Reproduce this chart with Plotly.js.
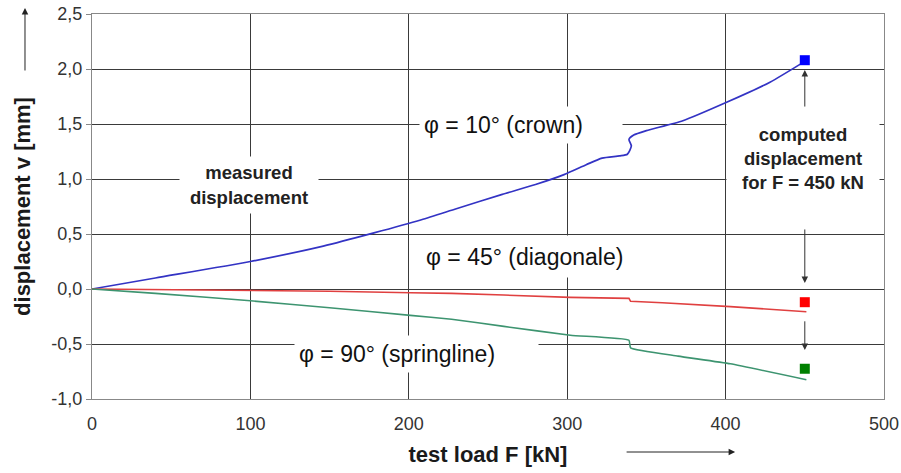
<!DOCTYPE html>
<html>
<head>
<meta charset="utf-8">
<script src="https://cdn.plot.ly/plotly-3.0.1.min.js"></script>
<style>html,body{margin:0;padding:0;background:#fff;}#chart{width:901px;height:473px;}</style>
</head>
<body>
<div id="chart"></div>
<script>
// measured displacement curves (test load F [kN] vs displacement v [mm])
const crownF = [0, 40, 100, 146, 178, 208, 230, 259, 280, 298, 312, 322, 333, 338, 340.5, 339, 342, 350, 373, 401, 428, 449];
const crownV = [0, 0.10, 0.25, 0.39, 0.51, 0.63, 0.73, 0.86, 0.95, 1.04, 1.13, 1.19, 1.21, 1.225, 1.30, 1.36, 1.40, 1.44, 1.53, 1.70, 1.88, 2.06];

const diagF = [0, 50, 100, 150, 201, 227, 260, 302, 339, 340, 360, 403, 451];
const diagV = [0, -0.005, -0.01, -0.02, -0.034, -0.04, -0.055, -0.076, -0.085, -0.112, -0.125, -0.16, -0.207];

const springF = [0, 40, 100, 150, 201, 227, 260, 302, 339, 340, 370, 403, 451];
const springV = [0, -0.04, -0.107, -0.17, -0.24, -0.275, -0.34, -0.42, -0.466, -0.535, -0.61, -0.68, -0.825];

// computed displacement for F = 450 kN
const computedF = [450, 450, 450];
const computedV = [2.08, -0.12, -0.725];
const computedColors = ['#0000ff', '#ff0000', '#008000'];

// axis ticks
const xTicks = [0, 100, 200, 300, 400, 500];
const yTicks = [-1.0, -0.5, 0.0, 0.5, 1.0, 1.5, 2.0, 2.5];
const yTickText = ['-1,0', '-0,5', '0,0', '0,5', '1,0', '1,5', '2,0', '2,5'];

const FONT = '"Liberation Sans", Arial, sans-serif';

const traces = [
  {x: crownF, y: crownV, type: 'scatter', mode: 'lines', line: {color: '#3333c4', width: 1.7, shape: 'spline', smoothing: 0.6}, hoverinfo: 'skip'},
  {x: diagF, y: diagV, type: 'scatter', mode: 'lines', line: {color: '#e04040', width: 1.6}, hoverinfo: 'skip'},
  {x: springF, y: springV, type: 'scatter', mode: 'lines', line: {color: '#3d9470', width: 1.6, shape: 'spline', smoothing: 0.4}, hoverinfo: 'skip'},
  {x: computedF, y: computedV, type: 'scatter', mode: 'markers',
   marker: {symbol: 'square', size: 10, color: computedColors}, hoverinfo: 'skip'}
];

function label(text, x, y, w, h, opts) {
  return Object.assign({
    text: text, x: x, y: y, xref: 'x', yref: 'y', showarrow: false,
    width: w, height: h, bgcolor: '#ffffff', borderpad: 4,
    font: {family: FONT, size: 23, color: '#111'}, align: 'left', valign: 'middle'
  }, opts || {});
}

function arrow(x, yHead, yTail) {
  return {x: x, y: yHead, ax: x, ay: yTail, xref: 'x', yref: 'y', axref: 'x', ayref: 'y',
    showarrow: true, arrowhead: 2, arrowsize: 1.3, arrowwidth: 1, arrowcolor: '#333', text: ''};
}

const annotations = [
  label('φ = 10° (crown)', 270.8, 1.49, 194, 28),
  label('φ = 45° (diagonale)', 277.1, 0.30, 210, 33),
  label('φ = 90° (springline)', 204.9, -0.59, 235, 28),
  label('<b>measured<br>displacement</b>', 99.1, 0.945, 130, 48,
        {align: 'center', font: {family: FONT, size: 18.5, color: '#222'}}),
  label('<b>computed<br>displacement<br>for F = 450 kN</b>', 449, 1.186, 144, 75,
        {align: 'center', font: {family: FONT, size: 18.5, color: '#222'}}),
  arrow(450, 1.99, 1.645),
  arrow(450, 0.055, 0.555),
  arrow(450, -0.555, -0.28),
  // axis direction arrows
  {x: -0.0846, y: 1.0156, xref: 'paper', yref: 'paper', ax: 0, ay: 64, axref: 'pixel', ayref: 'pixel',
   showarrow: true, arrowhead: 2, arrowsize: 1.3, arrowwidth: 1, arrowcolor: '#222', text: ''},
  {x: 0.812, y: -0.1377, xref: 'paper', yref: 'paper', ax: -110, ay: 0, axref: 'pixel', ayref: 'pixel',
   showarrow: true, arrowhead: 2, arrowsize: 1.3, arrowwidth: 1, arrowcolor: '#222', text: ''}
];

const layout = {
  width: 901, height: 473,
  margin: {l: 92, r: 17, t: 14, b: 74},
  paper_bgcolor: '#ffffff', plot_bgcolor: '#ffffff',
  showlegend: false,
  font: {family: FONT, size: 18, color: '#333'},
  xaxis: {
    range: [0, 500], tickvals: xTicks, ticktext: xTicks.map(String),
    showgrid: true, gridcolor: '#3a3a3a', gridwidth: 1, zeroline: false,
    showline: true, linecolor: '#888', linewidth: 1, mirror: true,
    ticks: '', ticklabelstandoff: 8, tickfont: {family: FONT, size: 18, color: '#333'},
    title: {text: '<b>test load F [kN]</b>', standoff: 14, font: {family: FONT, size: 22, color: '#1a1a1a'}},
    fixedrange: true
  },
  yaxis: {
    range: [-1.0, 2.5], tickvals: yTicks, ticktext: yTickText,
    showgrid: true, gridcolor: '#3a3a3a', gridwidth: 1, zeroline: false,
    showline: true, linecolor: '#888', linewidth: 1, mirror: true,
    ticks: 'outside', ticklen: 5, tickcolor: '#888',
    tickfont: {family: FONT, size: 18, color: '#333'},
    title: {text: '<b>displacement v [mm]</b>', standoff: 14, font: {family: FONT, size: 22, color: '#1a1a1a'}},
    fixedrange: true
  },
  annotations: annotations
};

Plotly.newPlot('chart', traces, layout, {staticPlot: true, displayModeBar: false});
</script>
</body>
</html>
